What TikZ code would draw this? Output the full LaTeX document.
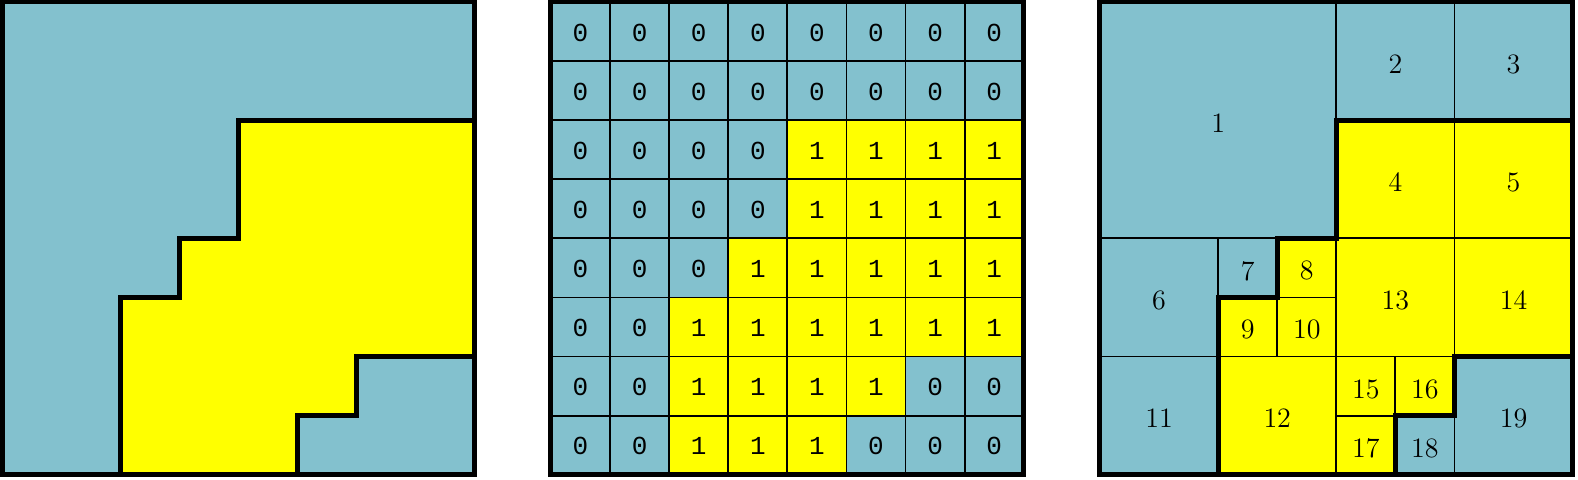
\documentclass[tikz,border=0pt]{standalone}
\usepackage{fontspec}
\newfontfamily\bitfont{Liberation Mono}
\usetikzlibrary{positioning}
\definecolor{sea}{RGB}{131,193,206}
\definecolor{sun}{RGB}{255,255,0}
\newcommand\sunoutline{(4,6) -- (8,6) -- (8,2) -- (6,2) -- (6,1) -- (5,1) -- (5,0)
  -- (2,0) -- (2,3) -- (3,3) -- (3,4) -- (4,4) -- cycle}

\begin{document}
\begin{tikzpicture}[x=1cm,y=1cm,
    thin grid/.style={draw=black, line width=0.9pt},
    border/.style={draw=black, fill=none, line width=2.4pt},
    bit/.style={font=\bitfont\fontsize{12.5}{14}\selectfont, yshift=-0.02cm},
    leaf/.style={font=\fontsize{13.5}{16}\selectfont, yshift=-0.05cm}]
  \useasboundingbox (-0.034,-0.088) rectangle (26.67,8.034);
  % the image
  \begin{scope}
    \fill[sea] (0,0) rectangle (8,8);
    \fill[sun] \sunoutline;
    \draw[border] \sunoutline;
    \draw[border] (0,0) rectangle (8,8);
  \end{scope}
  % the bit matrix
  \begin{scope}[xshift=9.29cm]
    \foreach \vals [count=\j from 0] in {
        {0,0,0,0,0,0,0,0},
        {0,0,0,0,0,0,0,0},
        {0,0,0,0,1,1,1,1},
        {0,0,0,0,1,1,1,1},
        {0,0,0,1,1,1,1,1},
        {0,0,1,1,1,1,1,1},
        {0,0,1,1,1,1,0,0},
        {0,0,1,1,1,0,0,0}} {
      \foreach \v [count=\i from 0] in \vals {
        \ifnum\v=1 \def\cellcol{sun}\else \def\cellcol{sea}\fi
        \filldraw[thin grid, fill=\cellcol] (\i,7-\j) rectangle ++(1,1);
        \node[bit] (b-\i-\j) at (\i+0.5,7.5-\j) {\v};
      }
    }
    \draw[border] (0,0) rectangle (8,8);
  \end{scope}
  % the quadtree
  \begin{scope}[xshift=18.58cm]
    \foreach \x/\y/\w/\c/\n in {0/4/4/sea/1, 4/6/2/sea/2, 6/6/2/sea/3,
        4/4/2/sun/4, 6/4/2/sun/5, 0/2/2/sea/6, 2/3/1/sea/7, 3/3/1/sun/8,
        2/2/1/sun/9, 3/2/1/sun/10, 0/0/2/sea/11, 2/0/2/sun/12,
        4/2/2/sun/13, 6/2/2/sun/14, 4/1/1/sun/15, 5/1/1/sun/16,
        4/0/1/sun/17, 5/0/1/sea/18, 6/0/2/sea/19} {
      \filldraw[thin grid, fill=\c] (\x,\y) rectangle ++(\w,\w);
      \node[leaf] (q\n) at ({\x+\w/2},{\y+\w/2}) {\n};
    }
    \draw[border] \sunoutline;
    \draw[border] (0,0) rectangle (8,8);
  \end{scope}
\end{tikzpicture}
\end{document}
